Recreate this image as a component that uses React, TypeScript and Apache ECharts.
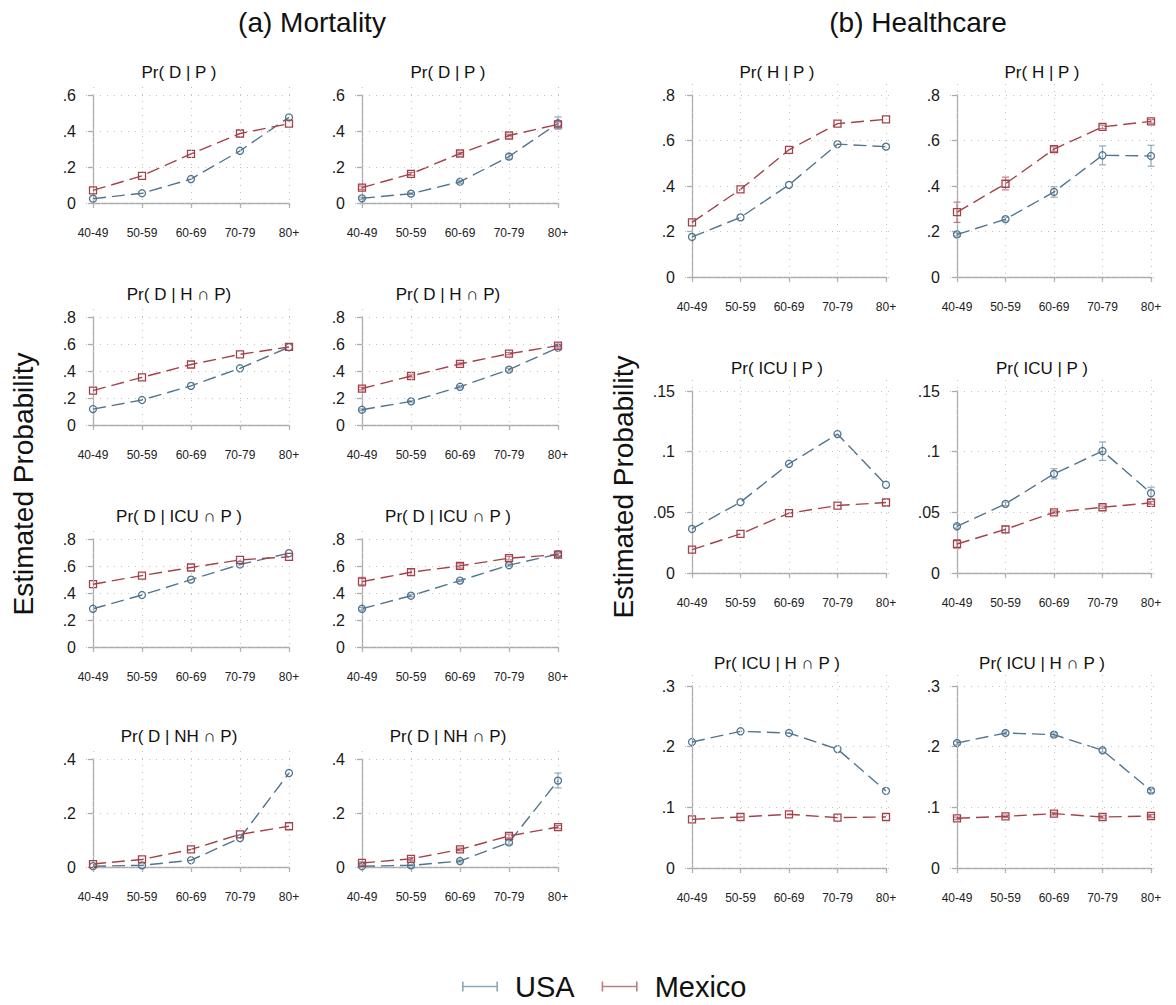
import React, { useEffect, useRef } from "react";
import * as echarts from "echarts";

// ---------- categories & ticks ----------
const ageGroups = ["40-49", "50-59", "60-69", "70-79", "80+"];
const ticks06 = [0, 0.2, 0.4, 0.6];
const ticks08 = [0, 0.2, 0.4, 0.6, 0.8];
const ticks04 = [0, 0.2, 0.4];
const ticks015 = [0, 0.05, 0.1, 0.15];
const ticks03 = [0, 0.1, 0.2, 0.3];

// ---------- (a) Mortality ----------
// Pr( D | P )
const dP_usa_a = [0.024, 0.054, 0.133, 0.29, 0.476];
const dP_mex_a = [0.07, 0.151, 0.273, 0.386, 0.441];
const dP_usa_b = [0.026, 0.052, 0.118, 0.258, 0.443];
const dP_mex_b = [0.085, 0.162, 0.275, 0.375, 0.437];
const dP_usa_b_lo = [0.02, 0.047, 0.11, 0.243, 0.41];
const dP_usa_b_hi = [0.032, 0.057, 0.126, 0.273, 0.478];
const dP_mex_b_lo = [0.076, 0.154, 0.268, 0.368, 0.425];
const dP_mex_b_hi = [0.094, 0.17, 0.282, 0.382, 0.449];

// Pr( D | H ∩ P)
const dHP_usa_a = [0.118, 0.185, 0.29, 0.42, 0.576];
const dHP_mex_a = [0.255, 0.353, 0.448, 0.523, 0.578];
const dHP_usa_b = [0.113, 0.175, 0.283, 0.41, 0.572];
const dHP_mex_b = [0.27, 0.363, 0.453, 0.528, 0.588];
const dHP_usa_b_lo = [0.107, 0.169, 0.275, 0.4, 0.56];
const dHP_usa_b_hi = [0.119, 0.181, 0.291, 0.42, 0.584];
const dHP_mex_b_lo = [0.26, 0.355, 0.445, 0.52, 0.578];
const dHP_mex_b_hi = [0.28, 0.371, 0.461, 0.536, 0.598];

// Pr( D | ICU ∩ P )
const dICU_usa_a = [0.283, 0.385, 0.499, 0.611, 0.695];
const dICU_mex_a = [0.465, 0.529, 0.589, 0.645, 0.668];
const dICU_usa_b = [0.283, 0.38, 0.492, 0.606, 0.688];
const dICU_mex_b = [0.484, 0.554, 0.601, 0.658, 0.684];
const dICU_usa_b_lo = [0.273, 0.372, 0.484, 0.598, 0.676];
const dICU_usa_b_hi = [0.293, 0.388, 0.5, 0.614, 0.7];
const dICU_mex_b_lo = [0.452, 0.53, 0.585, 0.645, 0.672];
const dICU_mex_b_hi = [0.516, 0.578, 0.617, 0.671, 0.696];

// Pr( D | NH ∩ P)
const dNH_usa_a = [0.003, 0.006, 0.025, 0.107, 0.348];
const dNH_mex_a = [0.011, 0.028, 0.065, 0.121, 0.151];
const dNH_usa_b = [0.003, 0.006, 0.022, 0.091, 0.32];
const dNH_mex_b = [0.015, 0.03, 0.065, 0.115, 0.148];
const dNH_usa_b_lo = [0.001, 0.004, 0.018, 0.084, 0.293];
const dNH_usa_b_hi = [0.005, 0.008, 0.026, 0.098, 0.348];
const dNH_mex_b_lo = [0.011, 0.025, 0.06, 0.108, 0.142];
const dNH_mex_b_hi = [0.019, 0.035, 0.07, 0.122, 0.154];

// ---------- (b) Healthcare ----------
// Pr( H | P )
const hP_usa_a = [0.176, 0.262, 0.405, 0.584, 0.573];
const hP_mex_a = [0.24, 0.385, 0.559, 0.674, 0.693];
const hP_usa_b = [0.187, 0.254, 0.374, 0.535, 0.532];
const hP_mex_b = [0.285, 0.41, 0.562, 0.66, 0.684];
const hP_usa_b_lo = [0.18, 0.246, 0.351, 0.493, 0.487];
const hP_usa_b_hi = [0.194, 0.262, 0.397, 0.576, 0.579];
const hP_mex_b_lo = [0.24, 0.383, 0.552, 0.652, 0.676];
const hP_mex_b_hi = [0.329, 0.439, 0.572, 0.668, 0.692];

// Pr( ICU | P )
const icuP_usa_a = [0.0363, 0.0584, 0.09, 0.1145, 0.0727];
const icuP_mex_a = [0.0193, 0.0322, 0.0493, 0.0556, 0.0581];
const icuP_usa_b = [0.0385, 0.057, 0.0817, 0.1005, 0.0658];
const icuP_mex_b = [0.0239, 0.036, 0.05, 0.0542, 0.0578];
const icuP_usa_b_lo = [0.037, 0.0555, 0.0776, 0.0928, 0.0614];
const icuP_usa_b_hi = [0.04, 0.0585, 0.0859, 0.108, 0.0707];
const icuP_mex_b_lo = [0.0206, 0.0333, 0.0488, 0.0532, 0.0566];
const icuP_mex_b_hi = [0.0275, 0.0385, 0.0512, 0.0552, 0.059];

// Pr( ICU | H ∩ P )
const icuHP_usa_a = [0.2077, 0.2253, 0.2225, 0.196, 0.127];
const icuHP_mex_a = [0.0802, 0.0841, 0.0885, 0.083, 0.0841];
const icuHP_usa_b = [0.206, 0.2225, 0.2198, 0.194, 0.1275];
const icuHP_mex_b = [0.0819, 0.0852, 0.0896, 0.0841, 0.0857];
const icuHP_usa_b_lo = [0.203, 0.2195, 0.2168, 0.191, 0.1245];
const icuHP_usa_b_hi = [0.209, 0.2255, 0.2228, 0.197, 0.1305];
const icuHP_mex_b_lo = [0.0799, 0.0832, 0.0874, 0.0821, 0.0835];
const icuHP_mex_b_hi = [0.0839, 0.0872, 0.0918, 0.0861, 0.0879];

// ---------- styling / layout ----------
const FONT = '"Liberation Sans", Arial, Helvetica, sans-serif';
const USA_COLOR = "#52758f";
const MEX_COLOR = "#a3424b";
const USA_LIGHT = "#8ea8ba";
const MEX_LIGHT = "#bd7c81";
const AXIS_COLOR = "#ababab";
const GRID_COLOR = "#c2c2c2";

const leftCat0 = [93, 362];
const rightCat0 = [692, 957];
const leftSpacing = 49;
const rightSpacing = 48.5;
const leftTops = [95, 317, 539, 759];
const rightTops = [95, 391, 686];
const leftHeight = 108;
const rightHeight = 182;

type PanelDef = {
  section: "L" | "R";
  col: number;
  row: number;
  title: string;
  usa: number[];
  mex: number[];
  usaLo?: number[];
  usaHi?: number[];
  mexLo?: number[];
  mexHi?: number[];
  max: number;
  step: number;
  ticks: number[];
};

const panels: PanelDef[] = [
  { section: "L", col: 0, row: 0, title: "Pr( D | P )", usa: dP_usa_a, mex: dP_mex_a, max: 0.6, step: 0.2, ticks: ticks06 },
  { section: "L", col: 1, row: 0, title: "Pr( D | P )", usa: dP_usa_b, mex: dP_mex_b, usaLo: dP_usa_b_lo, usaHi: dP_usa_b_hi, mexLo: dP_mex_b_lo, mexHi: dP_mex_b_hi, max: 0.6, step: 0.2, ticks: ticks06 },
  { section: "L", col: 0, row: 1, title: "Pr( D | H \u2229 P)", usa: dHP_usa_a, mex: dHP_mex_a, max: 0.8, step: 0.2, ticks: ticks08 },
  { section: "L", col: 1, row: 1, title: "Pr( D | H \u2229 P)", usa: dHP_usa_b, mex: dHP_mex_b, usaLo: dHP_usa_b_lo, usaHi: dHP_usa_b_hi, mexLo: dHP_mex_b_lo, mexHi: dHP_mex_b_hi, max: 0.8, step: 0.2, ticks: ticks08 },
  { section: "L", col: 0, row: 2, title: "Pr( D | ICU \u2229 P )", usa: dICU_usa_a, mex: dICU_mex_a, max: 0.8, step: 0.2, ticks: ticks08 },
  { section: "L", col: 1, row: 2, title: "Pr( D | ICU \u2229 P )", usa: dICU_usa_b, mex: dICU_mex_b, usaLo: dICU_usa_b_lo, usaHi: dICU_usa_b_hi, mexLo: dICU_mex_b_lo, mexHi: dICU_mex_b_hi, max: 0.8, step: 0.2, ticks: ticks08 },
  { section: "L", col: 0, row: 3, title: "Pr( D | NH \u2229 P)", usa: dNH_usa_a, mex: dNH_mex_a, max: 0.4, step: 0.2, ticks: ticks04 },
  { section: "L", col: 1, row: 3, title: "Pr( D | NH \u2229 P)", usa: dNH_usa_b, mex: dNH_mex_b, usaLo: dNH_usa_b_lo, usaHi: dNH_usa_b_hi, mexLo: dNH_mex_b_lo, mexHi: dNH_mex_b_hi, max: 0.4, step: 0.2, ticks: ticks04 },
  { section: "R", col: 0, row: 0, title: "Pr( H | P )", usa: hP_usa_a, mex: hP_mex_a, max: 0.8, step: 0.2, ticks: ticks08 },
  { section: "R", col: 1, row: 0, title: "Pr( H | P )", usa: hP_usa_b, mex: hP_mex_b, usaLo: hP_usa_b_lo, usaHi: hP_usa_b_hi, mexLo: hP_mex_b_lo, mexHi: hP_mex_b_hi, max: 0.8, step: 0.2, ticks: ticks08 },
  { section: "R", col: 0, row: 1, title: "Pr( ICU | P )", usa: icuP_usa_a, mex: icuP_mex_a, max: 0.15, step: 0.05, ticks: ticks015 },
  { section: "R", col: 1, row: 1, title: "Pr( ICU | P )", usa: icuP_usa_b, mex: icuP_mex_b, usaLo: icuP_usa_b_lo, usaHi: icuP_usa_b_hi, mexLo: icuP_mex_b_lo, mexHi: icuP_mex_b_hi, max: 0.15, step: 0.05, ticks: ticks015 },
  { section: "R", col: 0, row: 2, title: "Pr( ICU | H \u2229 P )", usa: icuHP_usa_a, mex: icuHP_mex_a, max: 0.3, step: 0.1, ticks: ticks03 },
  { section: "R", col: 1, row: 2, title: "Pr( ICU | H \u2229 P )", usa: icuHP_usa_b, mex: icuHP_mex_b, usaLo: icuHP_usa_b_lo, usaHi: icuHP_usa_b_hi, mexLo: icuHP_mex_b_lo, mexHi: icuHP_mex_b_hi, max: 0.3, step: 0.1, ticks: ticks03 },
];

function geom(p: PanelDef) {
  if (p.section === "L") {
    return { cat0: leftCat0[p.col], sp: leftSpacing, top: leftTops[p.row], h: leftHeight };
  }
  return { cat0: rightCat0[p.col], sp: rightSpacing, top: rightTops[p.row], h: rightHeight };
}

function fmtY(v: number) {
  if (Math.abs(v) < 1e-9) return "0";
  const s = parseFloat(v.toFixed(4)).toString();
  return s.replace(/^0\./, ".");
}

function ciSeries(name: string, lo: number[], hi: number[], color: string, axisIdx: number) {
  return {
    type: "custom",
    name,
    xAxisIndex: axisIdx,
    yAxisIndex: axisIdx,
    z: 2,
    silent: true,
    data: ageGroups.map((_, i) => [i, lo[i], hi[i]]),
    encode: { x: 0, y: [1, 2] },
    renderItem: (params: any, api: any) => {
      const x = api.value(0);
      const p1 = api.coord([x, api.value(1)]);
      const p2 = api.coord([x, api.value(2)]);
      const hw = 3.5;
      const style = { stroke: color, lineWidth: 1.2, fill: "none" };
      return {
        type: "group",
        children: [
          { type: "line", shape: { x1: p1[0], y1: p1[1], x2: p2[0], y2: p2[1] }, style },
          { type: "line", shape: { x1: p1[0] - hw, y1: p1[1], x2: p1[0] + hw, y2: p1[1] }, style },
          { type: "line", shape: { x1: p2[0] - hw, y1: p2[1], x2: p2[0] + hw, y2: p2[1] }, style },
        ],
      };
    },
  };
}

function buildOption() {
  const grids: any[] = [];
  const xAxes: any[] = [];
  const yAxes: any[] = [];
  const series: any[] = [];
  const graphics: any[] = [];

  const padX = 7;
  const padTop = 12;
  const padBot = 4;

  panels.forEach((p, idx) => {
    const g = geom(p);
    const w = 4 * g.sp;
    const a = 2 * idx;
    const b = 2 * idx + 1;

    // plot-region grid (slightly larger than data range, as in Stata)
    grids.push({
      left: g.cat0 - padX,
      top: g.top - padTop,
      width: w + 2 * padX,
      height: g.h + padTop + padBot,
      containLabel: false,
      outerBoundsMode: "none",
    });
    xAxes.push({
      type: "value",
      gridIndex: a,
      min: -padX / g.sp,
      max: 4 + padX / g.sp,
      show: false,
    });
    yAxes.push({
      type: "value",
      gridIndex: a,
      min: (-padBot / g.h) * p.max,
      max: p.max + (padTop / g.h) * p.max,
      show: false,
    });

    // axis grid (exact data range, axes offset outward)
    grids.push({
      left: g.cat0,
      top: g.top,
      width: w,
      height: g.h,
      containLabel: false,
      outerBoundsMode: "none",
    });
    xAxes.push({
      type: "value",
      gridIndex: b,
      min: 0,
      max: 4,
      interval: 1,
      position: "bottom",
      offset: 12,
      axisLine: { show: true, lineStyle: { color: AXIS_COLOR, width: 1.3 } },
      axisTick: { show: true, length: 5, lineStyle: { color: AXIS_COLOR, width: 1.3 } },
      axisLabel: {
        show: true,
        margin: 12,
        fontSize: 12,
        color: "#222",
        fontFamily: FONT,
        formatter: (v: number) => ageGroups[Math.round(v)] ?? "",
      },
      splitLine: { show: false },
    });
    yAxes.push({
      type: "value",
      gridIndex: b,
      min: 0,
      max: p.max,
      interval: p.step,
      position: "left",
      offset: 9,
      axisLine: { show: true, lineStyle: { color: AXIS_COLOR, width: 1.3 } },
      axisTick: { show: true, length: 5, lineStyle: { color: AXIS_COLOR, width: 1.3 } },
      axisLabel: {
        show: true,
        margin: 8,
        fontSize: 16,
        color: "#1a1a1a",
        fontFamily: FONT,
        formatter: (v: number) => fmtY(v),
      },
      splitLine: { show: false },
    });

    // confidence intervals
    if (p.usaLo && p.usaHi) series.push(ciSeries("USA CI", p.usaLo, p.usaHi, USA_LIGHT, a));
    if (p.mexLo && p.mexHi) series.push(ciSeries("Mexico CI", p.mexLo, p.mexHi, MEX_LIGHT, a));

    series.push({
      type: "line",
      name: "USA",
      xAxisIndex: a,
      yAxisIndex: a,
      z: 3,
      data: p.usa.map((v, i) => [i, v]),
      symbol: "circle",
      symbolSize: 7,
      itemStyle: { color: "transparent", borderColor: USA_COLOR, borderWidth: 1.3 },
      lineStyle: { color: USA_COLOR, width: 1.4, type: [13, 6] },
      silent: true,
      markLine: {
        silent: true,
        symbol: ["none", "none"],
        label: { show: false },
        lineStyle: { color: GRID_COLOR, type: [1, 6], width: 1 },
        emphasis: { disabled: true },
        data: [
          ...p.ticks.map((t) => ({ yAxis: t })),
          ...ageGroups.map((_, i) => ({ xAxis: i })),
        ],
      },
    });
    series.push({
      type: "line",
      name: "Mexico",
      xAxisIndex: a,
      yAxisIndex: a,
      z: 3,
      data: p.mex.map((v, i) => [i, v]),
      symbol: "rect",
      symbolSize: 7,
      itemStyle: { color: "transparent", borderColor: MEX_COLOR, borderWidth: 1.3 },
      lineStyle: { color: MEX_COLOR, width: 1.4, type: [13, 6] },
      silent: true,
    });

    // panel title
    graphics.push({
      type: "text",
      x: g.cat0 + w / 2 - 12,
      y: g.top - 23,
      silent: true,
      style: {
        text: p.title,
        font: `17px ${FONT}`,
        fill: "#111",
        textAlign: "center",
        textVerticalAlign: "middle",
        verticalAlign: "middle",
      },
    });
  });

  // section titles
  graphics.push({
    type: "text",
    x: 312,
    y: 22,
    silent: true,
    style: { text: "(a) Mortality", font: `28px ${FONT}`, fill: "#111", textAlign: "center", textVerticalAlign: "middle", verticalAlign: "middle" },
  });
  graphics.push({
    type: "text",
    x: 918,
    y: 22,
    silent: true,
    style: { text: "(b) Healthcare", font: `28px ${FONT}`, fill: "#111", textAlign: "center", textVerticalAlign: "middle", verticalAlign: "middle" },
  });
  // y titles
  graphics.push({
    type: "text",
    x: 23,
    y: 484,
    rotation: Math.PI / 2,
    silent: true,
    style: { text: "Estimated Probability", font: `28px ${FONT}`, fill: "#111", textAlign: "center", textVerticalAlign: "middle", verticalAlign: "middle" },
  });
  graphics.push({
    type: "text",
    x: 623,
    y: 487,
    rotation: Math.PI / 2,
    silent: true,
    style: { text: "Estimated Probability", font: `28px ${FONT}`, fill: "#111", textAlign: "center", textVerticalAlign: "middle", verticalAlign: "middle" },
  });

  const capIcon = "path://M0,0H1.6V10H0Z M0,4.2H36V5.8H0Z M34.4,0H36V10H34.4Z";

  return {
    animation: false,
    backgroundColor: "#ffffff",
    textStyle: { fontFamily: FONT },
    grid: grids,
    xAxis: xAxes,
    yAxis: yAxes,
    series,
    graphic: graphics,
    legend: {
      show: true,
      left: 462,
      top: 972,
      padding: 0,
      itemWidth: 36,
      itemHeight: 10,
      itemGap: 27,
      selectedMode: false,
      textStyle: { fontSize: 29, color: "#111", fontFamily: FONT, padding: [0, 0, 0, 12] },
      data: [
        { name: "USA", icon: capIcon, itemStyle: { color: USA_LIGHT, borderWidth: 0 } },
        { name: "Mexico", icon: capIcon, itemStyle: { color: MEX_LIGHT, borderWidth: 0 } },
      ],
    },
  };
}

export default function App() {
  const ref = useRef<HTMLDivElement>(null);
  useEffect(() => {
    if (!ref.current) return;
    const chart = echarts.init(ref.current, undefined, { renderer: "svg" });
    chart.setOption(buildOption() as any);
    return () => {
      chart.dispose();
    };
  }, []);
  return (
    <div
      ref={ref}
      style={{ position: "absolute", left: 0, top: 0, width: 1176, height: 1005, background: "#fff" }}
    />
  );
}
